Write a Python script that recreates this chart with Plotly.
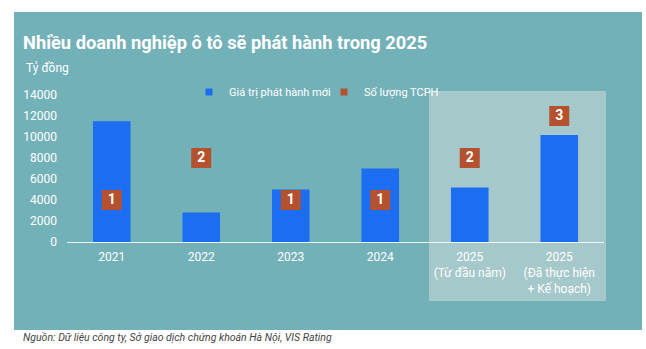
import plotly.graph_objects as go

categories = ["2021", "2022", "2023", "2024", "2025<br>(Từ đầu năm)", "2025<br>(Đã thực hiện<br>+ Kế hoạch)"]
issue_value = [11500, 2800, 5000, 7000, 5200, 10200]
issuer_count = [1, 2, 1, 1, 2, 3]
y_ticks = [0, 2000, 4000, 6000, 8000, 10000, 12000, 14000]
y_tick_text = [str(v) for v in y_ticks]

W, H = 646, 349
L, R, T, B = 67, 42, 95, 107
pw, ph = W - L - R, H - T - B

def px(x):
    return (x - L) / pw

def py(y):
    return (H - B - y) / ph

TEAL = "#73B1B9"
HILITE = "#A5C8CB"
BLUE = "#1C6DF1"
RED = "#B4522F"

fig = go.Figure()
fig.add_trace(go.Bar(
    x=categories, y=issue_value, name="Giá trị phát hành mới", showlegend=False,
    marker=dict(color=BLUE, line=dict(width=0)), width=0.42,
))
fig.add_trace(go.Scatter(
    x=categories, y=issuer_count, name="Số lượng TCPH", yaxis="y2", showlegend=False,
    mode="markers+text", text=[str(v) for v in issuer_count],
    textposition="middle center",
    textfont=dict(color="white", size=14, family="Roboto", weight="bold"),
    marker=dict(symbol="square", size=20, color=RED, line=dict(width=0)),
))
# legend entries (small square swatches as in the reference)
fig.add_trace(go.Scatter(x=[None], y=[None], mode="markers", name="Giá trị phát hành mới",
                         marker=dict(symbol="square", size=7, color=BLUE), legend="legend"))
fig.add_trace(go.Scatter(x=[None], y=[None], mode="markers", name="Số lượng TCPH",
                         marker=dict(symbol="square", size=7, color=RED), legend="legend2"))

shapes = [
    dict(type="rect", xref="paper", yref="paper", x0=px(14), x1=px(642), y0=py(330), y1=py(12),
         fillcolor=TEAL, line=dict(width=0), layer="below"),
    dict(type="rect", xref="paper", yref="paper", x0=px(429), x1=px(606), y0=py(301), y1=py(91),
         fillcolor=HILITE, line=dict(width=0), layer="below"),
]

annotations = [
    dict(text="<b>Nhiều doanh nghiệp ô tô sẽ phát hành trong 2025</b>", xref="paper", yref="paper",
         x=px(21), y=py(42), xanchor="left", yanchor="middle", showarrow=False,
         font=dict(family="Roboto", size=18.3, color="white")),
    dict(text="Tỷ đồng", xref="paper", yref="paper", x=px(24), y=py(68),
         xanchor="left", yanchor="middle", showarrow=False,
         font=dict(family="Roboto", size=12, color="white")),
    dict(text="<i>Nguồn: Dữ liệu công ty, Sở giao dịch chứng khoán Hà Nội, VIS Rating</i>",
         xref="paper", yref="paper", x=px(21), y=py(337), xanchor="left", yanchor="middle",
         showarrow=False, font=dict(family="Roboto", size=10.5, color="#444444")),
]

legend_common = dict(orientation="h", yanchor="middle", xanchor="left", y=py(92),
                     bgcolor="rgba(0,0,0,0)", font=dict(size=11, color="white"), itemwidth=30)

fig.update_layout(
    width=W, height=H, margin=dict(l=L, r=R, t=T, b=B, autoexpand=False),
    paper_bgcolor="white", plot_bgcolor="rgba(0,0,0,0)",
    font=dict(family="Roboto", color="white", size=11),
    shapes=shapes, annotations=annotations,
    showlegend=True,
    legend=dict(x=px(189), **legend_common),
    legend2=dict(x=px(324), **legend_common),
    xaxis=dict(showgrid=False, showline=True, linecolor="rgba(255,255,255,0.85)", linewidth=1,
               ticks="", tickfont=dict(size=12, color="white"), zeroline=False,
               ticklabelstandoff=4),
    yaxis=dict(range=[0, 14000], tickvals=y_ticks, ticktext=y_tick_text, showgrid=False,
               zeroline=False, showline=False,
               ticks="", tickfont=dict(size=12, color="white"), ticklabelstandoff=9),
    yaxis2=dict(range=[0, 3.5], overlaying="y", visible=False),
    bargap=0.5,
)

fig.write_html("out.html")
